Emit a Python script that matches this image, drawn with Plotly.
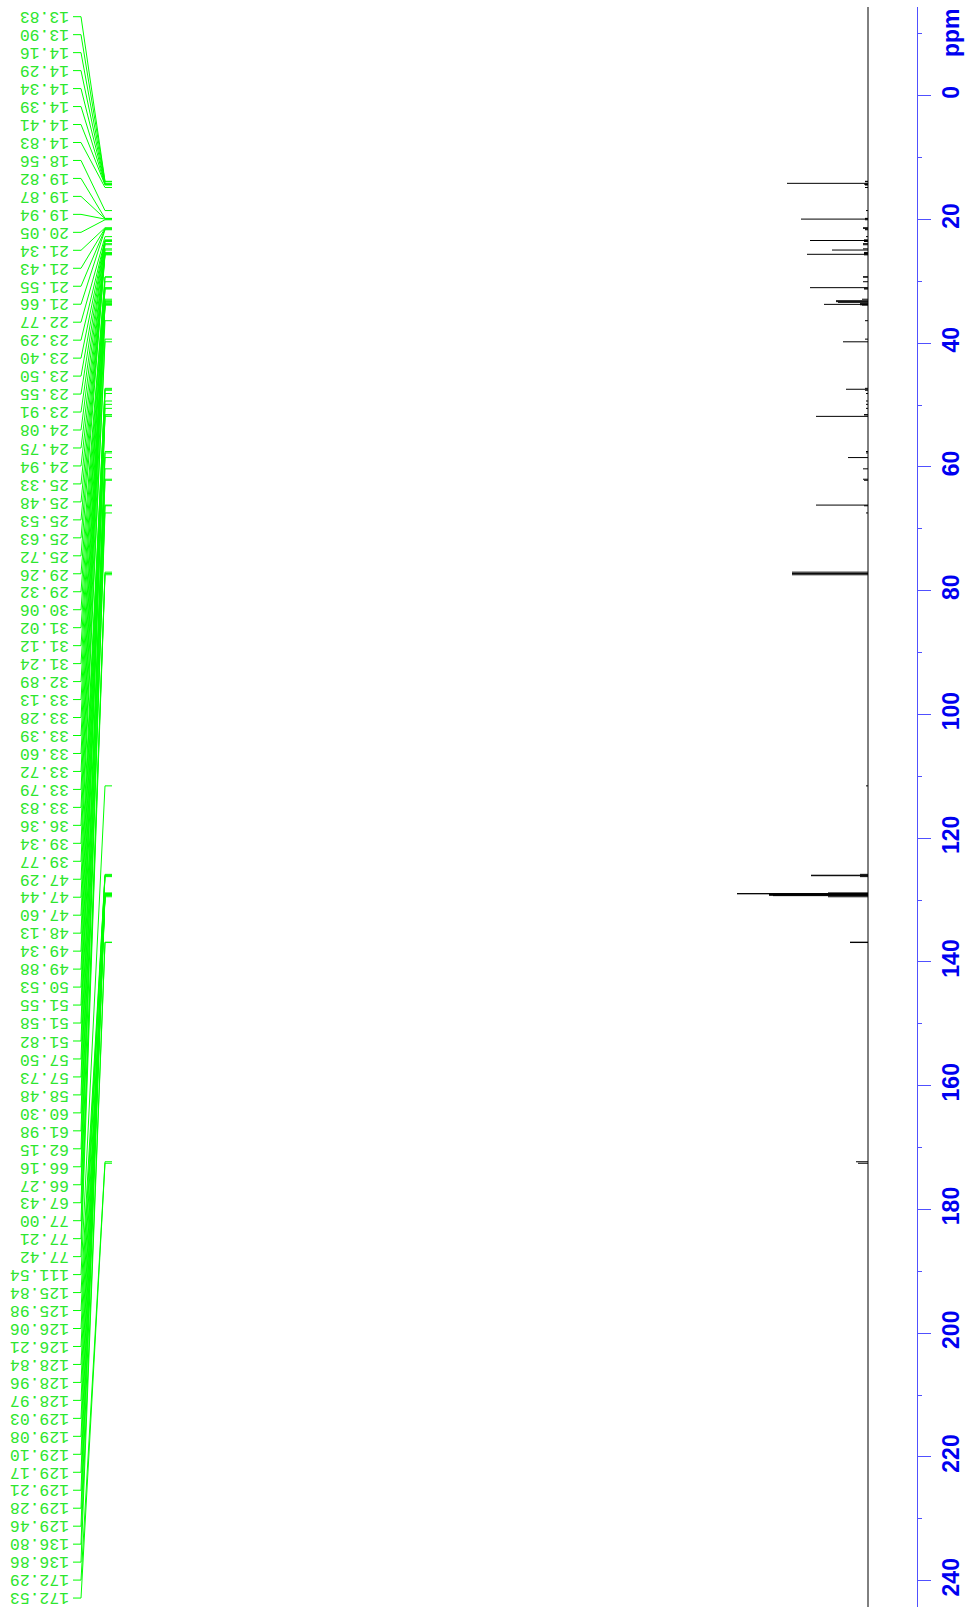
import plotly.graph_objects as go

# ---- data ----
peak_ppm = [13.83, 13.90, 14.16, 14.29, 14.34, 14.39, 14.41, 14.83, 18.56, 19.82,
            19.87, 19.94, 20.05, 21.34, 21.43, 21.55, 21.66, 22.77, 23.29, 23.40,
            23.50, 23.55, 23.91, 24.08, 24.75, 24.94, 25.33, 25.48, 25.53, 25.63,
            25.72, 29.26, 29.32, 30.06, 31.02, 31.12, 31.24, 32.89, 33.13, 33.28,
            33.39, 33.60, 33.72, 33.79, 33.83, 36.36, 39.34, 39.77, 47.29, 47.44,
            47.60, 48.13, 49.34, 49.88, 50.53, 51.55, 51.58, 51.82, 57.50, 57.73,
            58.48, 60.30, 61.98, 62.15, 66.16, 66.27, 67.43, 77.00, 77.21, 77.42,
            111.54, 125.84, 125.98, 126.06, 126.21, 128.84, 128.96, 128.97, 129.03, 129.08,
            129.10, 129.17, 129.21, 129.28, 129.46, 136.80, 136.86, 172.29, 172.53]

peak_int = [3, 3, 81, 4, 3, 3, 3, 3, 2, 3,
            3, 67, 3, 5, 5, 3, 3, 2, 4, 58,
            4, 4, 5, 5, 5, 36, 4, 4, 4, 61,
            4, 5, 5, 5, 58, 4, 4, 6, 32, 32,
            30, 8, 44, 8, 6, 3, 3, 25, 3, 22,
            3, 2, 2, 2, 2, 4, 4, 52, 2, 2,
            20, 5, 5, 4, 52, 4, 2, 76, 76, 76,
            2, 8, 57, 57, 8, 40, 131, 131, 99, 99,
            99, 99, 99, 95, 40, 18, 18, 12, 10]

ppm_window = [-14.34, 244.25]   # spectral window shown
ppm_ticks_major = 20
ppm_ticks_minor = 10

# ---- layout constants ----
W, H = 968, 1612
ML, MR, MT, MB = 0, 51, 7, 5
plot_w = W - ML - MR
baseline_px = 868
x_range = [baseline_px - 0, baseline_px - plot_w]   # reversed intensity axis


def px_to_x(px):
    return baseline_px - px


ppm_per_px = (ppm_window[1] - ppm_window[0]) / (H - MT - MB)


def px_to_ppm(py):
    return ppm_window[0] + (py - MT) * ppm_per_px


green_line = "#00ff00"
green_text = "#2ee62e"
blue_axis = "#5050ff"
blue_text = "#0000f0"

# spectrum: baseline + sticks
sx, sy = [0, 0, None], [ppm_window[0], ppm_window[1], None]
for p, h in zip(peak_ppm, peak_int):
    sx += [0, h, None]
    sy += [p, p, None]

fig = go.Figure()
fig.add_trace(go.Scatter(x=sx, y=sy, mode="lines",
                         line=dict(color="black", width=1),
                         hoverinfo="skip", showlegend=False))

# label connectors
label_top_px, label_step_px = 16.7, 17.97
cx, cy = [], []
annotations = []
for i, p in enumerate(peak_ppm):
    ly = px_to_ppm(label_top_px + i * label_step_px)
    cx += [px_to_x(73), px_to_x(81), px_to_x(105), px_to_x(112), None]
    cy += [ly, ly, p, p, None]
    annotations.append(dict(
        x=px_to_x(70), y=ly, xref="x", yref="y",
        text=f"{p:.2f}", showarrow=False, textangle=180,
        xanchor="right", yanchor="middle",
        font=dict(family="Liberation Mono, Courier New, monospace", size=16.4, color=green_text),
        borderpad=0,
    ))

fig.add_trace(go.Scatter(x=cx, y=cy, mode="lines",
                         line=dict(color=green_line, width=1),
                         hoverinfo="skip", showlegend=False))

annotations.append(dict(
    x=1.0 + 34 / plot_w, y=px_to_ppm(33), xref="paper", yref="y",
    text="ppm", showarrow=False, textangle=-90,
    xanchor="center", yanchor="middle",
    font=dict(family="Liberation Sans, Arial, sans-serif", size=23, color=blue_text, weight="bold"),
))

fig.update_layout(
    width=W, height=H,
    margin=dict(l=ML, r=MR, t=MT, b=MB, autoexpand=False),
    paper_bgcolor="white", plot_bgcolor="white",
    showlegend=False,
    annotations=annotations,
    xaxis=dict(visible=False, range=x_range, fixedrange=True, automargin=False),
    yaxis=dict(
        range=[ppm_window[1], ppm_window[0]],
        side="right", automargin=False,
        showline=True, linecolor=blue_axis, linewidth=1,
        ticks="outside", ticklen=13, tickwidth=1.2, tickcolor=blue_axis,
        tick0=0, dtick=ppm_ticks_major,
        minor=dict(dtick=ppm_ticks_minor, tick0=0, ticks="outside", ticklen=4,
                   tickcolor=blue_axis, tickwidth=1.2, showgrid=False),
        tickangle=-90,
        tickfont=dict(family="Liberation Sans, Arial, sans-serif", size=23,
                      color=blue_text, weight="bold"),
        ticklabelstandoff=0,
        showgrid=False, zeroline=False,
    ),
)

fig.write_html("out.html", config={"displayModeBar": False},
               post_script="document.body.style.margin='0';document.body.style.overflow='hidden';")
